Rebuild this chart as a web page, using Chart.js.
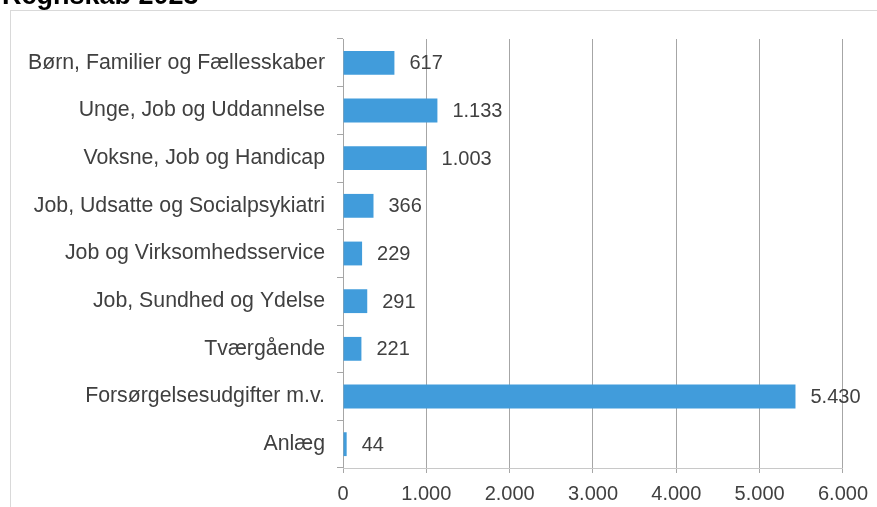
<!DOCTYPE html>
<html>
<head>
<meta charset="utf-8">
<script src="https://cdn.jsdelivr.net/npm/chart.js@4/dist/chart.umd.min.js"></script>
<style>
  body { margin: 0; background: #fff; }
  #wrap { position: relative; width: 877px; height: 507px; }
</style>
</head>
<body>
<div id="wrap"><canvas id="regnskabChart"></canvas></div>
<script>
// Chart data
var title = "Regnskab 2023";
var categories = [
    "Børn, Familier og Fællesskaber",
    "Unge, Job og Uddannelse",
    "Voksne, Job og Handicap",
    "Job, Udsatte og Socialpsykiatri",
    "Job og Virksomhedsservice",
    "Job, Sundhed og Ydelse",
    "Tværgående",
    "Forsørgelsesudgifter m.v.",
    "Anlæg"
];
var values = [617, 1133, 1003, 366, 229, 291, 221, 5430, 44];
var axisMin = 0;
var axisMax = 6000;
var axisStep = 1000;

// Danish thousands separator
function fmt(n) {
    return String(n).replace(/\B(?=(\d{3})+(?!\d))/g, ".");
}

var textColor = '#404040';
var fontFamily = '"Liberation Sans", Arial, sans-serif';

// Frame and title drawn on the canvas
var framePlugin = {
    id: 'frame',
    beforeDraw: function(chart) {
        var ctx = chart.ctx;
        ctx.save();
        ctx.strokeStyle = '#d9d9d9';
        ctx.lineWidth = 1;
        ctx.strokeRect(10.5, 10.5, 1000, 1000);
        ctx.fillStyle = '#000';
        ctx.font = 'bold 27px ' + fontFamily;
        ctx.textBaseline = 'alphabetic';
        ctx.textAlign = 'left';
        ctx.fillText(title, 2, 4);
        ctx.restore();
    }
};

// Value labels to the right of each bar
var valueLabels = {
    id: 'valueLabels',
    afterDatasetsDraw: function(chart) {
        var ctx = chart.ctx;
        var meta = chart.getDatasetMeta(0);
        ctx.save();
        ctx.fillStyle = textColor;
        ctx.font = '20px ' + fontFamily;
        ctx.textBaseline = 'middle';
        ctx.textAlign = 'left';
        meta.data.forEach(function(bar, i) {
            ctx.fillText(fmt(values[i]), bar.x + 15, bar.y + 1);
        });
        ctx.restore();
    }
};

var ctx = document.getElementById('regnskabChart').getContext('2d');
new Chart(ctx, {
    type: 'bar',
    data: {
        labels: categories,
        datasets: [{
            data: values,
            backgroundColor: '#419cdb',
            borderWidth: 0,
            barPercentage: 0.5,
            categoryPercentage: 1
        }]
    },
    options: {
        indexAxis: 'y',
        responsive: true,
        maintainAspectRatio: false,
        animation: false,
        layout: { padding: { top: 39, right: 34, left: 0, bottom: 0 } },
        plugins: {
            legend: { display: false },
            tooltip: { enabled: false }
        },
        scales: {
            y: {
                afterFit: function(s) { s.width = 343; },
                grid: {
                    offset: true,
                    drawOnChartArea: false,
                    drawTicks: true,
                    tickLength: 6,
                    color: '#a6a6a6'
                },
                border: { color: '#a6a6a6' },
                ticks: {
                    padding: 12,
                    color: textColor,
                    font: { size: 21.3, family: fontFamily }
                }
            },
            x: {
                min: axisMin,
                max: axisMax,
                afterFit: function(s) { s.height = 39; },
                grid: {
                    color: '#a6a6a6',
                    tickLength: 5
                },
                border: { color: '#c8c8c8' },
                ticks: {
                    stepSize: axisStep,
                    padding: 9,
                    color: textColor,
                    font: { size: 20, family: fontFamily },
                    maxRotation: 0,
                    callback: function(v) { return fmt(v); }
                }
            }
        }
    },
    plugins: [framePlugin, valueLabels]
});
</script>
</body>
</html>
